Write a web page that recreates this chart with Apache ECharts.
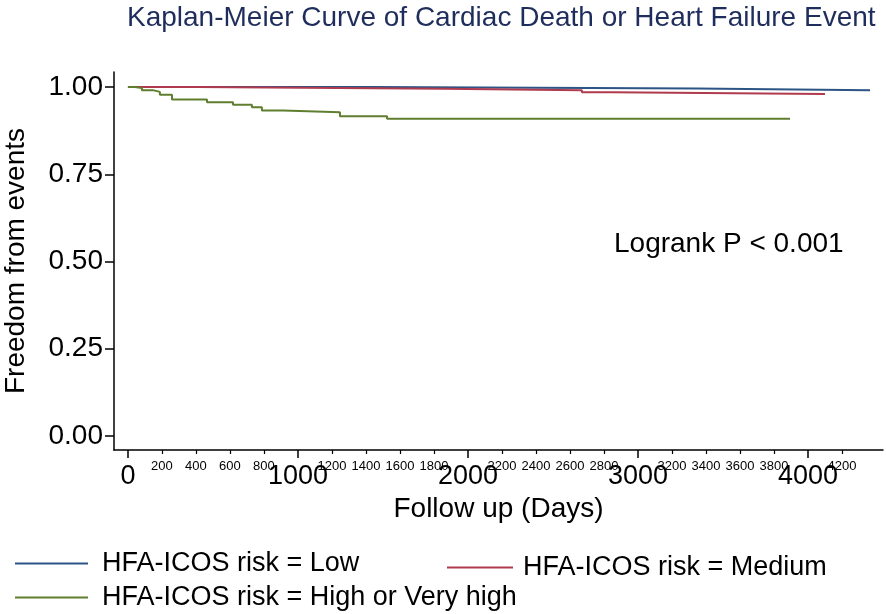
<!DOCTYPE html>
<html>
<head>
<meta charset="utf-8">
<script src="https://cdn.jsdelivr.net/npm/echarts@6/dist/echarts.min.js"></script>
<style>
html, body { margin: 0; padding: 0; background: #fff; }
#km { width: 886px; height: 614px; }
</style>
</head>
<body>
<div id="km"></div>
<script>
// 数据：天数 / 生存率
var lowDays = [0, 1453, 3347, 4365];
var lowSurv = [1.000, 0.996, 0.991, 0.991];

var medDays = [0, 405, 1853, 2670, 2847, 4100];
var medSurv = [1.000, 0.995, 0.991, 0.985, 0.980, 0.980];

var highDays = [0, 41, 82, 147, 188, 259, 465, 618, 729, 788, 912, 1247, 1524, 3894];
var highSurv = [1.000, 0.997, 0.991, 0.986, 0.978, 0.964, 0.956, 0.949, 0.942, 0.933, 0.928, 0.916, 0.909, 0.909];

var yTicks = [0, 0.25, 0.5, 0.75, 1];
var xMajorTicks = [0, 1000, 2000, 3000, 4000];
var xMinorTicks = [200, 400, 600, 800, 1200, 1400, 1600, 1800, 2200, 2400, 2600, 2800,
                   3200, 3400, 3600, 3800, 4200];

var seriesNames = ['HFA-ICOS risk = Low', 'HFA-ICOS risk = Medium', 'HFA-ICOS risk = High or Very high'];
var seriesColors = ['#2c5585', '#b03a4e', '#5f7f2f'];

function pairs(xs, ys) {
    var out = [];
    for (var i = 0; i < xs.length; i++) out.push([xs[i], ys[i]]);
    return out;
}

var font = 'Liberation Sans, Arial, sans-serif';

var kmChart = echarts.init(document.getElementById('km'));
var kmOption = {
    backgroundColor: '#fff',
    animation: false,
    textStyle: { fontFamily: font },
    title: {
        text: 'Kaplan-Meier Curve of Cardiac Death or Heart Failure Event',
        left: 122,
        top: -1,
        textStyle: { fontFamily: font, fontSize: 28, fontWeight: 'normal', color: '#1f2d5c' }
    },
    grid: { left: 114, right: 3, top: 72, bottom: 164, containLabel: false, outerBoundsMode: 'none' },
    xAxis: [
        {   // 主刻度 0,1000...
            type: 'value',
            min: -82, max: 4441,
            name: 'Follow up (Days)',
            nameLocation: 'middle',
            nameGap: 43,
            nameTextStyle: { fontFamily: font, fontSize: 28, color: '#000' },
            axisLine: { show: true, onZero: false, lineStyle: { color: '#000', width: 1.5 } },
            axisTick: { show: true, length: 8, customValues: xMajorTicks, lineStyle: { color: '#000', width: 1.5 } },
            axisLabel: {
                customValues: xMajorTicks, margin: 13, fontSize: 27, color: '#000', fontFamily: font,
                formatter: function (v) { return String(v); }
            },
            splitLine: { show: false }
        },
        {   // 小刻度 200,400...
            type: 'value',
            position: 'bottom',
            min: -82, max: 4441,
            axisLine: { show: false, onZero: false },
            axisTick: { show: true, length: 4, customValues: xMinorTicks, lineStyle: { color: '#000', width: 1.2 } },
            axisLabel: {
                customValues: xMinorTicks, margin: 10, fontSize: 13, color: '#000', fontFamily: font,
                formatter: function (v) { return String(v); }
            },
            splitLine: { show: false }
        }
    ],
    yAxis: {
        type: 'value',
        min: -0.04, max: 1.043,
        name: 'Freedom from events',
        nameLocation: 'middle',
        nameGap: 84,
        nameTextStyle: { fontFamily: font, fontSize: 28, color: '#000' },
        axisLine: { show: true, onZero: false, lineStyle: { color: '#000', width: 1.5 } },
        axisTick: { show: true, length: 9, customValues: yTicks, lineStyle: { color: '#000', width: 1.5 } },
        axisLabel: {
            customValues: yTicks, margin: 11, fontSize: 28, color: '#000', fontFamily: font,
            formatter: function (v) { return v.toFixed(2); }
        },
        splitLine: { show: false }
    },
    legend: [
        { data: [seriesNames[0]], left: 15, top: 550, itemWidth: 73, gapLeft: 9 },
        { data: [seriesNames[1]], left: 447, top: 554, itemWidth: 66, gapLeft: 5 },
        { data: [seriesNames[2]], left: 15, top: 584, itemWidth: 73, gapLeft: 9 }
    ].map(function (l) {
        l.icon = 'rect';
        l.itemHeight = 2;
        l.padding = 0;
        l.textStyle = { fontFamily: font, fontSize: 27, color: '#000', padding: [0, 0, 0, l.gapLeft] };
        delete l.gapLeft;
        return l;
    }),
    graphic: [{
        type: 'text',
        left: 614, top: 230,
        style: { text: 'Logrank P < 0.001', fontFamily: font, fontSize: 28, fill: '#000' }
    }],
    series: [
        { name: seriesNames[0], type: 'line', step: 'end', data: pairs(lowDays, lowSurv) },
        { name: seriesNames[1], type: 'line', step: 'end', data: pairs(medDays, medSurv) },
        { name: seriesNames[2], type: 'line', step: 'end', data: pairs(highDays, highSurv) }
    ].map(function (s, i) {
        s.showSymbol = false;
        s.symbol = 'none';
        s.color = seriesColors[i];
        s.lineStyle = { width: 2, color: seriesColors[i] };
        s.itemStyle = { color: seriesColors[i] };
        return s;
    })
};
kmChart.setOption(kmOption);
</script>
</body>
</html>
